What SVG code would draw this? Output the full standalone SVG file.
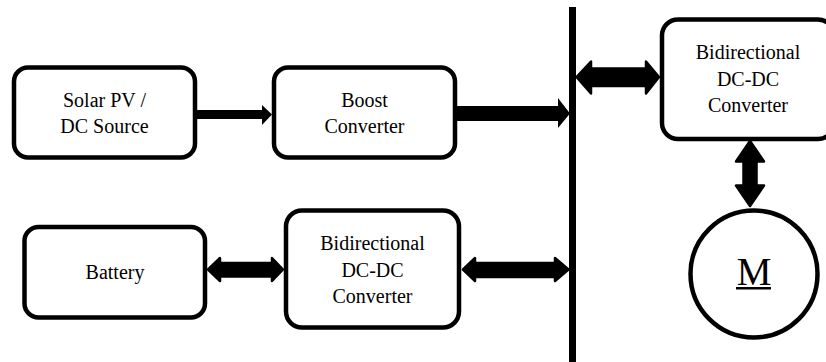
<svg xmlns="http://www.w3.org/2000/svg" width="826" height="362" viewBox="0 0 826 362">
<style>
.box{fill:#fff;stroke:#000;stroke-width:4.5}
text{font-family:'Liberation Serif','Times New Roman',Times,serif;fill:#000;text-anchor:middle}
.t{font-size:20px}
.a{fill:#000;stroke:none}
.d{fill:#000;stroke:#000;stroke-width:2.5;stroke-linejoin:round}
</style>
<rect width="826" height="362" fill="#fff"/>
<g id="bus"><rect x="569" y="7" width="7" height="356" fill="#000"/></g>
<g id="solar">
<rect class="box" x="14" y="67.5" width="181" height="90" rx="14"/>
<text class="t" x="104.5" y="107" font-family="Liberation Serif">Solar PV /</text>
<text class="t" x="104.5" y="133" font-family="Liberation Serif">DC Source</text>
</g>
<g id="boost">
<rect class="box" x="274" y="67.5" width="181" height="90" rx="14"/>
<text class="t" x="364.5" y="107" font-family="Liberation Serif">Boost</text>
<text class="t" x="364.5" y="133" font-family="Liberation Serif">Converter</text>
</g>
<g id="bidir-top">
<rect class="box" x="662" y="19.5" width="172" height="119.5" rx="16"/>
<text class="t" x="748" y="59" font-family="Liberation Serif">Bidirectional</text>
<text class="t" x="748" y="86" font-family="Liberation Serif">DC-DC</text>
<text class="t" x="748" y="112" font-family="Liberation Serif">Converter</text>
</g>
<g id="battery">
<rect class="box" x="24.5" y="227" width="180.5" height="90.5" rx="14"/>
<text class="t" x="115" y="279" font-family="Liberation Serif">Battery</text>
</g>
<g id="bidir-bottom">
<rect class="box" x="286" y="210.5" width="173" height="117" rx="16"/>
<text class="t" x="372.5" y="250" font-family="Liberation Serif">Bidirectional</text>
<text class="t" x="372.5" y="277" font-family="Liberation Serif">DC-DC</text>
<text class="t" x="372.5" y="303" font-family="Liberation Serif">Converter</text>
</g>
<g id="motor">
<circle cx="754" cy="274" r="63.5" fill="#fff" stroke="#000" stroke-width="4.5"/>
<text x="754" y="285" font-size="39" font-family="Liberation Serif">M</text>
<rect x="736" y="287" width="35" height="2.5" fill="#000"/>
</g>
<g id="connectors">
<polygon class="a" points="197,110 262,110 262,105 272,114.5 262,125 262,119 197,119"/>
<polygon class="a" points="457,106 558,106 558,98 570,113.5 558,128 558,121 457,121"/>
<polygon class="d" points="576.5,77 591,61.5 591,68.5 646,68.5 646,61.5 659,77 646,93.5 646,86 591,86 591,93.5"/>
<polygon class="d" points="750,141 764,161.5 756.5,161.5 756.5,185.5 764,185.5 750,206 736,185.5 743.5,185.5 743.5,161.5 736,161.5"/>
<polygon class="d" points="208,269.5 220,258 220,263 272,263 272,258 283,269.5 272,281 272,276.5 220,276.5 220,281"/>
<polygon class="d" points="463,269.5 475,258 475,263 555,263 555,258 568.5,269.5 555,281 555,277 475,277 475,281"/>
</g>
</svg>
